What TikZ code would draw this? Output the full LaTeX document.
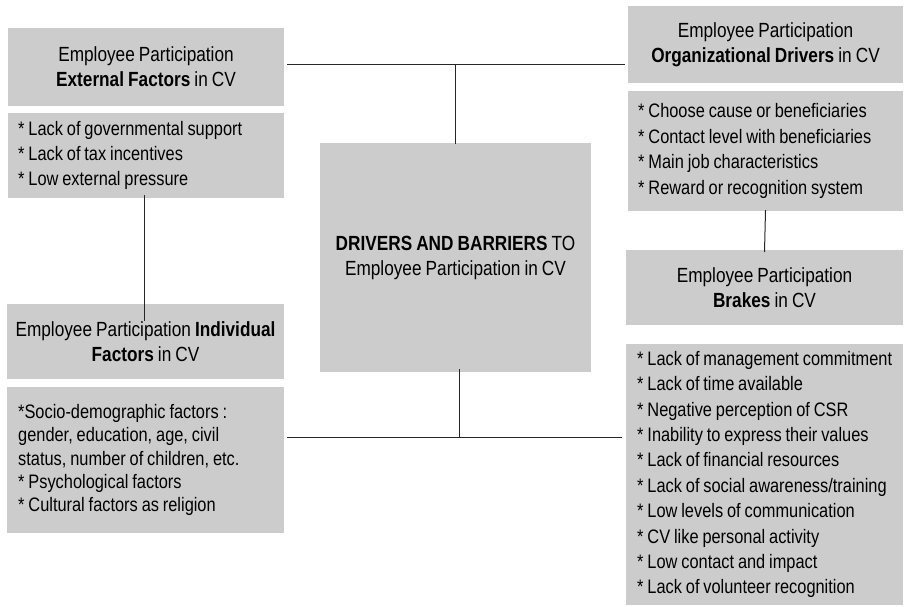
\documentclass[tikz,border=0pt]{standalone}
\usepackage{fontspec}
\setmainfont{Liberation Sans}[FakeStretch=0.84, WordSpace=0.85]
\begin{document}
\begin{tikzpicture}[x=1pt,y=-1pt,
  box/.style={fill=boxgray, draw=none, inner sep=0pt, outer sep=0pt, rectangle},
  head/.style={box, align=center, font=\fontsize{20.5}{25}\selectfont},
  listtext/.style={inner sep=0pt, anchor=west, align=left, font=\fontsize{19.5}{25.4}\selectfont},
  conn/.style={line width=1pt, draw=black!85}]
\definecolor{boxgray}{HTML}{CCCCCC}
\useasboundingbox (0,0) rectangle (904,606);
% boxes
\node[head, minimum width=276, minimum height=78] (exth) at (146,67)
  {Employee Participation\\\textbf{External Factors} in CV};
\node[box, minimum width=276, minimum height=85] (extl) at (146,155.5) {};
\node[listtext] (extt) at ([xshift=10pt]extl.west)
  {{*} Lack of governmental support\\{*} Lack of tax incentives\\{*} Low external pressure};
\node[head, minimum width=277, minimum height=75] (indh) at (145.5,341.5)
  {Employee Participation \textbf{Individual}\\\textbf{Factors} in CV};
\node[box, minimum width=277, minimum height=146] (indl) at (145.5,460) {};
\node[listtext, font=\fontsize{19.5}{23.3}\selectfont] (indt) at ([xshift=11pt]indl.west)
  {{*}Socio-demographic factors :\\gender, education, age, civil\\status, number of children, etc.\\{*} Psychological factors\\{*} Cultural factors as religion};
\node[head, minimum width=271, minimum height=229] (ctr) at (455.5,257.5)
  {\textbf{DRIVERS AND BARRIERS} TO\\Employee Participation in CV};
\node[head, minimum width=275, minimum height=77] (orgh) at (765.5,44.5)
  {Employee Participation\\\textbf{Organizational Drivers} in CV};
\node[box, minimum width=275, minimum height=120] (orgl) at (765.5,151) {};
\node[listtext] (orgt) at ([xshift=10pt]orgl.west)
  {{*} Choose cause or beneficiaries\\{*} Contact level with beneficiaries\\{*} Main job characteristics\\{*} Reward or recognition system};
\node[head, minimum width=277, minimum height=75] (brh) at (764.5,287.5)
  {Employee Participation\\\textbf{Brakes} in CV};
\node[box, minimum width=277, minimum height=261] (brl) at (764.5,474.5) {};
\node[listtext] (brt) at ([xshift=11pt]brl.west)
  {{*} Lack of management commitment\\{*} Lack of time available\\{*} Negative perception of CSR\\{*} Inability to express their values\\{*} Lack of financial resources\\{*} Lack of social awareness/training\\{*} Low levels of communication\\{*} CV like personal activity\\{*} Low contact and impact\\{*} Lack of volunteer recognition};
% connector end points
\coordinate (tl) at (287,64);
\coordinate (tr) at (625,64);
\coordinate (tm) at (455,64);
\coordinate (bl) at (287,437);
\coordinate (br) at (622,437);
\coordinate (bm) at (459,437);
% connectors
\draw[conn] (tl) -- (tr);
\draw[conn] (tm) -- ([yshift=-1pt]ctr.north -| tm);
\draw[conn] (bl) -- (br);
\draw[conn] (bm) -- ([yshift=3pt]ctr.south -| bm);
\draw[conn] ([yshift=3pt]extl.south -| 144,0) -- ([yshift=-17pt]indh.north -| 144,0);
\draw[conn] ([yshift=1pt]orgl.south) -- ([yshift=-2pt]brh.north);
\end{tikzpicture}
\end{document}
